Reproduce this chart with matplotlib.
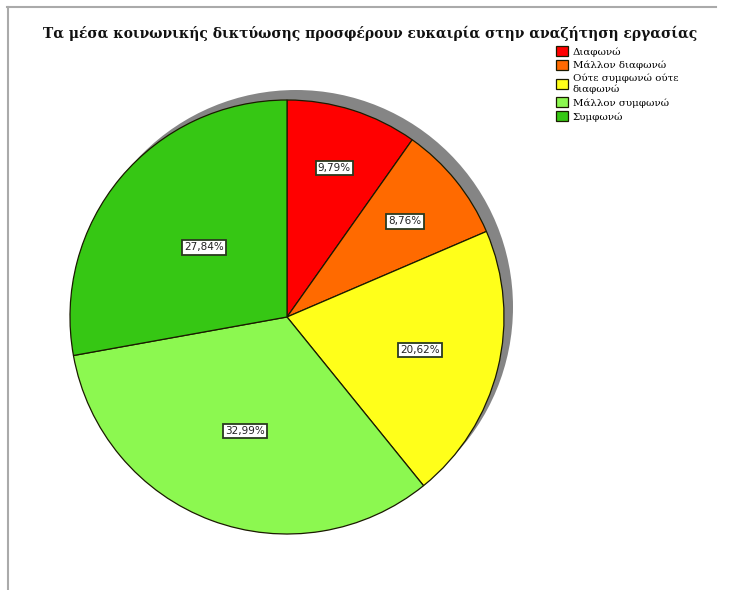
import matplotlib
matplotlib.use("Agg")
import matplotlib.pyplot as plt
from matplotlib.patches import Circle
import numpy as np

# Survey responses (share of respondents, %)
categories = [
    "Διαφωνώ",
    "Μάλλον διαφωνώ",
    "Ούτε συμφωνώ ούτε\nδιαφωνώ",
    "Μάλλον συμφωνώ",
    "Συμφωνώ",
]
shares = [9.79, 8.76, 20.62, 32.99, 27.84]
colors = ["#FF0000", "#FF6A00", "#FFFF1A", "#8CF850", "#36C714"]
title = "Τα μέσα κοινωνικής δικτύωσης προσφέρουν ευκαιρία στην αναζήτηση εργασίας"

W, H = 730, 590
fig = plt.figure(figsize=(W / 100, H / 100), dpi=100)
fig.patch.set_facecolor("white")
ax = fig.add_axes([0, 0, 1, 1])

cx, cy, r = 287, H - 317, 217

# drop shadow behind the pie
ax.add_patch(Circle((cx + 9, cy + 10), r, facecolor="#858585", edgecolor="none", zorder=1))

wedges, _ = ax.pie(
    shares, colors=colors, startangle=90, counterclock=False,
    center=(cx, cy), radius=r, frame=True,
    wedgeprops=dict(edgecolor="#1a1a00", linewidth=0.9, zorder=2),
)
ax.set_xlim(0, W)
ax.set_ylim(0, H)
ax.set_aspect("equal")
ax.axis("off")

# percentage labels inside each wedge
label_radius = [0.72, 0.70, 0.63, 0.56, 0.50]
for w, v, fr in zip(wedges, shares, label_radius):
    mid = np.deg2rad((w.theta1 + w.theta2) / 2)
    x = cx + fr * r * np.cos(mid)
    y = cy + fr * r * np.sin(mid)
    ax.text(x, y, f"{v:.2f}%".replace(".", ","), ha="center", va="center",
            fontsize=7.5, family="DejaVu Sans", color="#222222", zorder=5,
            bbox=dict(boxstyle="square,pad=0.2", facecolor="white",
                      edgecolor="#2a3a20", linewidth=1.3))

fig.text(370 / W, 1 - 33 / H, title, ha="center", va="center",
         fontsize=10.0, fontweight="bold", family="DejaVu Serif", color="#111111")

leg = ax.legend(wedges, categories, loc="upper left",
                bbox_to_anchor=(549 / W, 1 - 39 / H), bbox_transform=fig.transFigure,
                frameon=False, handlelength=1.1, handleheight=1.1,
                handletextpad=0.5, labelspacing=0.32, borderpad=0.2,
                prop={"family": "DejaVu Serif", "size": 7.4})

# thin frame lines along the top and left edges
fig.add_artist(plt.Line2D([7 / W, 716 / W], [1 - 7 / H, 1 - 7 / H], color="#aaaaaa", lw=1.5))
fig.add_artist(plt.Line2D([8 / W, 8 / W], [1 - 7 / H, 0], color="#aaaaaa", lw=1.5))

fig.savefig("out.png", dpi=100, facecolor="white")
